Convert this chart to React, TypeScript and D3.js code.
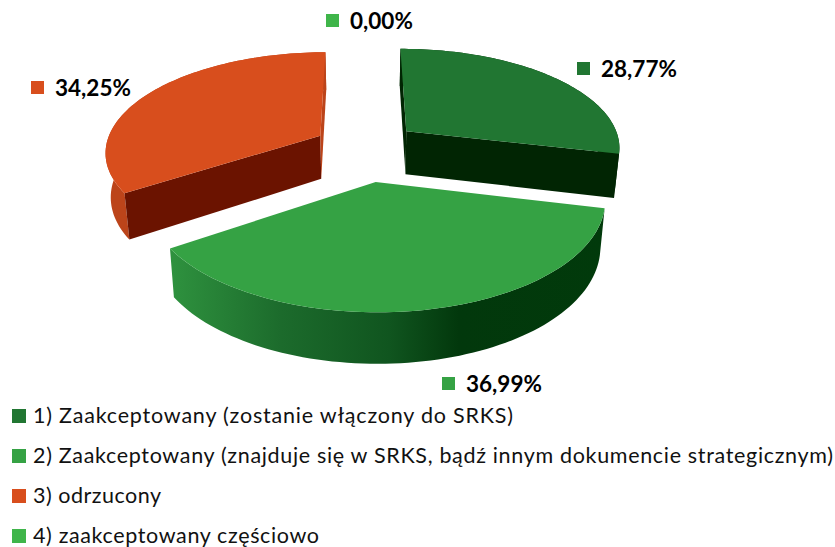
import { useEffect, useRef } from 'react';
import * as d3 from 'd3';

const categories = [
  '1) Zaakceptowany (zostanie włączony do SRKS)',
  '2) Zaakceptowany (znajduje się w SRKS, bądź innym dokumencie strategicznym)',
  '3) odrzucony',
  '4) zaakceptowany częściowo',
];
const values = [28.77, 36.99, 34.25, 0.0];
const valueLabels = ['28,77%', '36,99%', '34,25%', '0,00%'];

const topColors = ['#217632', '#35A244', '#D84E1D', '#3FB54A'];
const cutColors = ['#012503', '#013509', '#6B1300', '#013509'];
const wallColors = ['#012F06', 'url(#wall2)', '#BC441A', '#2C8C3C'];

// label marker position (left, top) for each slice
const labelX = [577, 442, 31, 326];
const labelY = [62, 377, 81, 14];
const legendY = [409, 449, 489, 529];
const legendWidths = [480, 800, 128, 286];

const width = 835;
const height = 547;

// perspective of the pie
const vx = 366;
const cy = 150;
const R = 216;
const kR = 100;
const persp = 0.15;
const explodeX = 0.245;
const explodeY = 0.31;
const depth = 44;
const rotation = -0.004;

export default function App() {
  const ref = useRef<SVGSVGElement | null>(null);

  useEffect(() => {
    const svg = d3.select(ref.current);
    svg.selectAll('*').remove();

    const defs = svg.append('defs');
    const grad = defs
      .append('linearGradient')
      .attr('id', 'wall2')
      .attr('gradientUnits', 'userSpaceOnUse')
      .attr('x1', 173)
      .attr('x2', 606)
      .attr('y1', 0)
      .attr('y2', 0);
    [
      [0, '#2E913E'],
      [0.25, '#1C6B2C'],
      [0.5, '#10551F'],
      [0.66, '#02380C'],
      [1, '#013A0B'],
    ].forEach(([o, c]) => grad.append('stop').attr('offset', o).attr('stop-color', c));

    const arcs = d3.pie<number>().sort(null).startAngle(rotation).endAngle(rotation + 2 * Math.PI)(values);

    const line = d3.line();
    const closed = (pts: [number, number][]) => line(pts) + 'Z';

    arcs
      .map((a, i) => ({ a, i }))
      .filter((d) => d.a.value > 0)
      .sort((p, q) => {
        const mp = (p.a.startAngle + p.a.endAngle) / 2;
        const mq = (q.a.startAngle + q.a.endAngle) / 2;
        return Math.cos(mq) - Math.cos(mp);
      })
      .forEach(({ a, i }) => {
        const mid = (a.startAngle + a.endAngle) / 2;
        const top = (r: number, t: number): [number, number] => {
          const X = explodeX * Math.sin(mid) + r * Math.sin(t);
          const u = -(explodeY * Math.cos(mid) + r * Math.cos(t));
          const f = 1 / (1 - persp * u);
          return [vx + R * X * f, cy + kR * u * f];
        };
        const bottom = (r: number, t: number): [number, number] => {
          const [x, y] = top(r, t);
          const u = -(explodeY * Math.cos(mid) + r * Math.cos(t));
          return [vx + (x - vx) * 0.98, y + depth * (1 + 0.13 * u)];
        };

        const ts = d3.range(0, 81).map((k) => a.startAngle + ((a.endAngle - a.startAngle) * k) / 80);
        const rim = ts.map((t) => top(1, t));
        const rimLow = ts.map((t) => bottom(1, t)).reverse();

        const g = svg.append('g');
        g.append('path').attr('d', closed([...rim, ...rimLow])).attr('fill', wallColors[i]);

        const startWall: [number, number][] = [top(0, a.startAngle), top(1, a.startAngle), bottom(1, a.startAngle), bottom(0, a.startAngle)];
        const endWall: [number, number][] = [top(0, a.endAngle), top(1, a.endAngle), bottom(1, a.endAngle), bottom(0, a.endAngle)];
        // only the cut faces turned to the viewer are drawn
        if (d3.polygonArea(startWall) > 0) {
          g.append('path').attr('d', closed(startWall)).attr('fill', cutColors[i]);
        }
        if (d3.polygonArea(endWall) < 0) {
          g.append('path').attr('d', closed(endWall)).attr('fill', i === 2 ? '#BC441A' : cutColors[i]);
        }

        g.append('path').attr('d', closed([top(0, a.startAngle), ...rim])).attr('fill', topColors[i]);
      });

    // data labels
    values.forEach((_, i) => {
      svg.append('rect')
        .attr('x', labelX[i])
        .attr('y', labelY[i])
        .attr('width', 13)
        .attr('height', 13)
        .attr('fill', topColors[i]);
      svg.append('text')
        .attr('x', labelX[i] + 24)
        .attr('y', labelY[i] + 15)
        .attr('font-family', 'Lato')
        .attr('font-weight', 700)
        .attr('font-size', 22.5)
        .attr('fill', '#000')
        .text(valueLabels[i]);
    });

    // legend
    categories.forEach((c, i) => {
      svg.append('rect')
        .attr('x', 12)
        .attr('y', legendY[i])
        .attr('width', 14)
        .attr('height', 14)
        .attr('fill', topColors[i]);
      svg.append('text')
        .attr('x', 33)
        .attr('y', legendY[i] + 14)
        .attr('font-family', 'Lato')
        .attr('font-size', 21.5)
        .attr('fill', '#111')
        .attr('textLength', legendWidths[i])
        .attr('lengthAdjust', 'spacing')
        .text(c);
    });
  }, []);

  return (
    <svg
      ref={ref}
      width={width}
      height={height}
      style={{ position: 'absolute', left: 0, top: 0, background: '#fff' }}
    />
  );
}
